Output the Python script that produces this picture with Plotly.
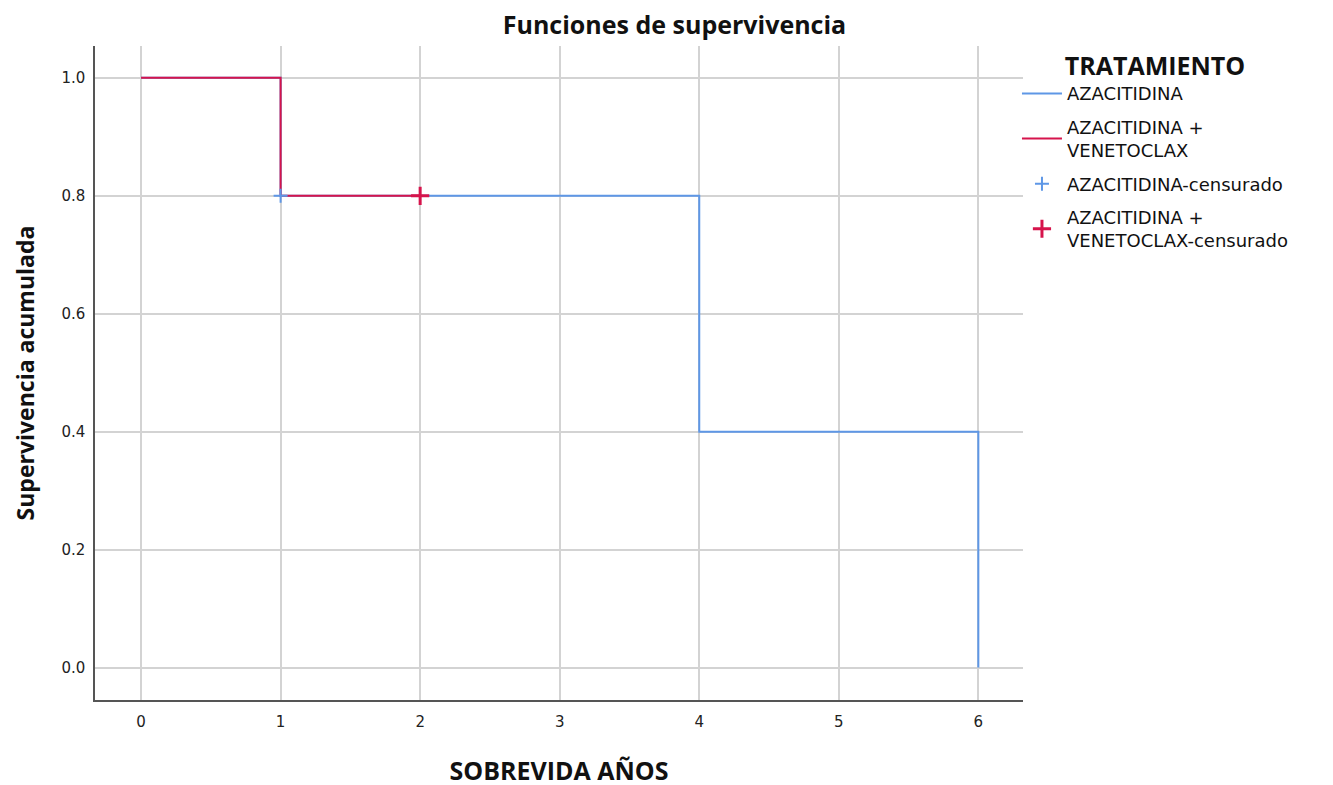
import plotly.graph_objects as go

# Data
aza_time = [0, 1, 4, 6]
aza_surv = [1.0, 0.8, 0.4, 0.0]
azv_time = [0, 1, 2]
azv_surv = [1.0, 0.8, 0.8]
aza_cens_time = [1]
aza_cens_surv = [0.8]
azv_cens_time = [2]
azv_cens_surv = [0.8]
x_ticks = [0, 1, 2, 3, 4, 5, 6]
y_ticks = [0.0, 0.2, 0.4, 0.6, 0.8, 1.0]

BLUE = "#5E97E6"
RED = "#D6144C"

fig = go.Figure()
fig.add_trace(go.Scatter(x=aza_time, y=aza_surv, mode="lines", line_shape="hv",
                         line=dict(color=BLUE, width=2), name="AZACITIDINA", legendgroup="a"))
fig.add_trace(go.Scatter(x=azv_time, y=azv_surv, mode="lines", line_shape="hv",
                         line=dict(color=RED, width=2), name="AZACITIDINA +<br>VENETOCLAX", legendgroup="b"))
fig.add_trace(go.Scatter(x=aza_cens_time, y=aza_cens_surv, mode="markers",
                         marker=dict(symbol="cross-thin", size=10, line=dict(color=BLUE, width=2)),
                         name="AZACITIDINA-censurado", legendgroup="c"))
fig.add_trace(go.Scatter(x=azv_cens_time, y=azv_cens_surv, mode="markers",
                         marker=dict(symbol="cross-thin", size=13, line=dict(color=RED, width=3)),
                         name="AZACITIDINA +<br>VENETOCLAX-censurado", legendgroup="d"))

title_font = "Open Sans, Lato, Noto Sans, sans-serif"
body_font = "DejaVu Sans, Verdana, sans-serif"
fig.update_layout(
    width=1333, height=785,
    margin=dict(l=87, r=318, t=38, b=87),
    paper_bgcolor="white", plot_bgcolor="white",
    font=dict(family=body_font, color="#111"),
    title=dict(text="<b>Funciones de supervivencia</b>", x=0.5, xanchor="center",
               y=0.978, yanchor="middle", font=dict(family=title_font, size=25, color="#111")),
    xaxis=dict(range=[-0.33, 6.32], tickvals=x_ticks, ticktext=[str(v) for v in x_ticks],
               showgrid=True, gridcolor="#D3D3D3", gridwidth=2, zeroline=False,
               showline=True, linecolor="#555", linewidth=1.5, ticks="", ticklen=0,
               ticklabelstandoff=7,
               tickfont=dict(size=15, color="#222"),
               title=dict(text="<b>SOBREVIDA AÑOS</b>", font=dict(family=title_font, size=25, color="#111"), standoff=33)),
    yaxis=dict(range=[-0.055, 1.054], tickvals=y_ticks, ticktext=[f"{v:.1f}" for v in y_ticks],
               showgrid=True, gridcolor="#D3D3D3", gridwidth=2, zeroline=False,
               showline=True, linecolor="#555", linewidth=1.5, ticks="", ticklen=0,
               ticklabelstandoff=5,
               tickfont=dict(size=15, color="#222"),
               title=dict(text="<b>Supervivencia acumulada</b>", font=dict(family=title_font, size=23, color="#111"), standoff=20)),
    legend=dict(x=0.9935, xanchor="left", y=1.005, yanchor="top",
                title=dict(text="<b>TRATAMIENTO</b>", font=dict(family=title_font, size=25, color="#111"), side="top center"),
                font=dict(family=body_font, size=18, color="#111"), tracegroupgap=7, itemwidth=40,
                bgcolor="rgba(0,0,0,0)"),
    showlegend=True,
)

fig.write_html("out.html")
